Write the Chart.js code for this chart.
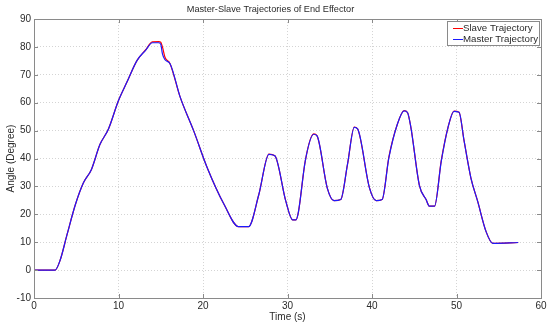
<!DOCTYPE html>
<html>
<head>
<meta charset="utf-8">
<script src="https://cdn.jsdelivr.net/npm/chart.js@4"></script>
<style>
  html, body { margin: 0; padding: 0; background: #fff; }
  #wrap { width: 550px; height: 326px; }
</style>
</head>
<body>
<div id="wrap"><canvas id="myChart" width="550" height="326"></canvas></div>
<script>
// Time samples (s)
const timeValues = [0, 2.5, 3.1, 3.9, 4.9, 5.85, 6.8, 7.8, 8.8, 10, 11, 12.2, 13.2, 14.0, 14.75, 15.0, 15.2, 15.5, 16.1,
    17.3, 18.9, 20.5, 22.5, 24.2, 25.4, 26.6, 27.8, 28.5, 29.8, 30.6, 31.0, 31.3, 32.1, 33.1, 33.5, 34.7, 35.5, 36.3,
    37.1, 37.9, 38.3, 39.7, 40.5, 41.2, 42.0, 43.0, 43.8, 44.2, 44.6, 45.6, 46.4, 46.8, 47.4, 48.2, 49.0, 49.7, 50.3,
    50.9, 51.7, 52.5, 53.5, 54.3, 57.3];

// Angle (degree)
const masterValues = [0, 0, 3.6, 12.6, 23.5, 31.3, 36.1, 45, 50.5, 60.8, 67.4, 75.2, 78.8, 81.5, 81.5, 81.0, 77.5, 75.4, 74,
    62, 49.9, 36.7, 23.5, 15.6, 15.6, 27, 41.5, 41, 24.7, 18, 18, 21, 39.1, 48.7, 48.1, 29.5, 24.9, 25.3,
    37.9, 51.2, 50.6, 29.5, 24.9, 25.3, 40.3, 52.3, 57.1, 56.5, 51.2, 30.5, 25.3, 22.9, 22.9, 39.1, 51.2, 56.9, 56.6,
    46.3, 33.1, 24.7, 13.8, 9.6, 9.9];

const slaveValues = [0, 0, 3.6, 12.6, 23.5, 31.3, 36.1, 45, 50.5, 60.8, 67.4, 75.2, 78.9, 81.8, 81.9, 81.7, 80.0, 76.3, 74,
    62, 49.9, 36.7, 23.5, 15.6, 15.6, 27, 41.6, 41, 24.7, 18, 18, 21, 39.1, 48.8, 48.1, 29.5, 24.9, 25.3,
    37.9, 51.3, 50.6, 29.5, 24.9, 25.3, 40.6, 52.3, 57.2, 56.5, 51.2, 30.5, 25.3, 22.9, 22.9, 39.3, 51.2, 57.0, 56.6,
    46.3, 33.1, 24.7, 13.8, 9.6, 9.9];

const seriesNames = ['Slave Trajectory', 'Master Trajectory'];
const seriesColors = ['#ff0000', '#1a1aff'];

const xTicks = [0, 10, 20, 30, 40, 50, 60];
const yTicks = [-10, 0, 10, 20, 30, 40, 50, 60, 70, 80, 90];

const toPoints = (vals) => timeValues.map((t, i) => ({ x: t, y: vals[i] }));

const textColor = '#2b2b2b';
const frameColor = '#8a8a8a';
const fontFamily = 'Liberation Sans, Arial, sans-serif';

// MATLAB-like box, inward ticks and legend
const framePlugin = {
    id: 'frame',
    afterDatasetsDraw(chart) {
        const { ctx, chartArea: a, scales } = chart;
        ctx.save();
        ctx.strokeStyle = frameColor;
        ctx.lineWidth = 1;
        ctx.strokeRect(Math.round(a.left) + 0.5, Math.round(a.top) + 0.5,
            Math.round(a.right - a.left), Math.round(a.bottom - a.top));
        ctx.beginPath();
        for (const v of xTicks) {
            const px = Math.round(scales.x.getPixelForValue(v)) + 0.5;
            ctx.moveTo(px, a.bottom); ctx.lineTo(px, a.bottom - 4);
            ctx.moveTo(px, a.top); ctx.lineTo(px, a.top + 4);
        }
        for (const v of yTicks) {
            const py = Math.round(scales.y.getPixelForValue(v)) + 0.5;
            ctx.moveTo(a.left, py); ctx.lineTo(a.left + 4, py);
            ctx.moveTo(a.right, py); ctx.lineTo(a.right - 4, py);
        }
        ctx.stroke();

        // legend box, top right inside the axes
        ctx.font = '9.7px ' + fontFamily;
        const textW = Math.max(...seriesNames.map(n => ctx.measureText(n).width));
        const boxR = a.right - 2, boxT = Math.round(a.top) + 2;
        const boxW = Math.round(textW + 17), boxH = 24;
        const boxL = Math.round(boxR - boxW);
        ctx.fillStyle = '#fff';
        ctx.fillRect(boxL, boxT, boxW, boxH);
        ctx.strokeStyle = frameColor;
        ctx.strokeRect(boxL + 0.5, boxT + 0.5, boxW, boxH);
        ctx.textBaseline = 'middle';
        ctx.textAlign = 'left';
        seriesNames.forEach((name, i) => {
            const y = boxT + 7.5 + i * 11;
            ctx.strokeStyle = seriesColors[i];
            ctx.lineWidth = 1;
            ctx.beginPath();
            ctx.moveTo(boxL + 6, y); ctx.lineTo(boxL + 16, y);
            ctx.stroke();
            ctx.fillStyle = textColor;
            ctx.fillText(name, boxL + 16, y);
        });
        ctx.restore();
    }
};

const ctx = document.getElementById('myChart').getContext('2d');
const myChart = new Chart(ctx, {
    type: 'scatter',
    data: {
        datasets: [{
            label: seriesNames[1],
            data: toPoints(masterValues),
            borderColor: seriesColors[1],
            borderWidth: 1.2,
            showLine: true,
            pointRadius: 0,
            cubicInterpolationMode: 'monotone'
        }, {
            label: seriesNames[0],
            data: toPoints(slaveValues),
            borderColor: seriesColors[0],
            borderWidth: 1.2,
            showLine: true,
            pointRadius: 0,
            cubicInterpolationMode: 'monotone'
        }]
    },
    options: {
        responsive: false,
        animation: false,
        layout: { padding: { left: 0, right: 9, top: 0, bottom: 0 } },
        plugins: {
            legend: { display: false },
            tooltip: { enabled: false },
            title: {
                display: true,
                text: 'Master-Slave Trajectories of End Effector',
                color: textColor,
                font: { family: fontFamily, size: 9.2, weight: 'normal' },
                padding: { top: 4, bottom: 4 }
            }
        },
        scales: {
            x: {
                type: 'linear',
                min: 0,
                max: 60,
                afterBuildTicks: (scale) => { scale.ticks = xTicks.map(v => ({ value: v })); },
                afterFit: (scale) => { scale.height = 28; },
                grid: { color: '#d4d4d4', drawTicks: false },
                border: { display: false, dash: [1, 2] },
                ticks: { color: textColor, padding: 2, maxRotation: 0, font: { family: fontFamily, size: 10 } },
                title: {
                    display: true,
                    text: 'Time (s)',
                    color: textColor,
                    font: { family: fontFamily, size: 10 },
                    padding: { top: 0, bottom: 3 }
                }
            },
            y: {
                min: -10,
                max: 90,
                afterBuildTicks: (scale) => { scale.ticks = yTicks.map(v => ({ value: v })); },
                afterFit: (scale) => { scale.width = 34; },
                grid: { color: '#d4d4d4', drawTicks: false },
                border: { display: false, dash: [1, 2] },
                ticks: { color: textColor, padding: 3, font: { family: fontFamily, size: 10 } },
                title: {
                    display: true,
                    text: 'Angle (Degree)',
                    color: textColor,
                    font: { family: fontFamily, size: 10 },
                    padding: { top: 5, bottom: 0 }
                }
            }
        }
    },
    plugins: [framePlugin]
});
</script>
</body>
</html>
